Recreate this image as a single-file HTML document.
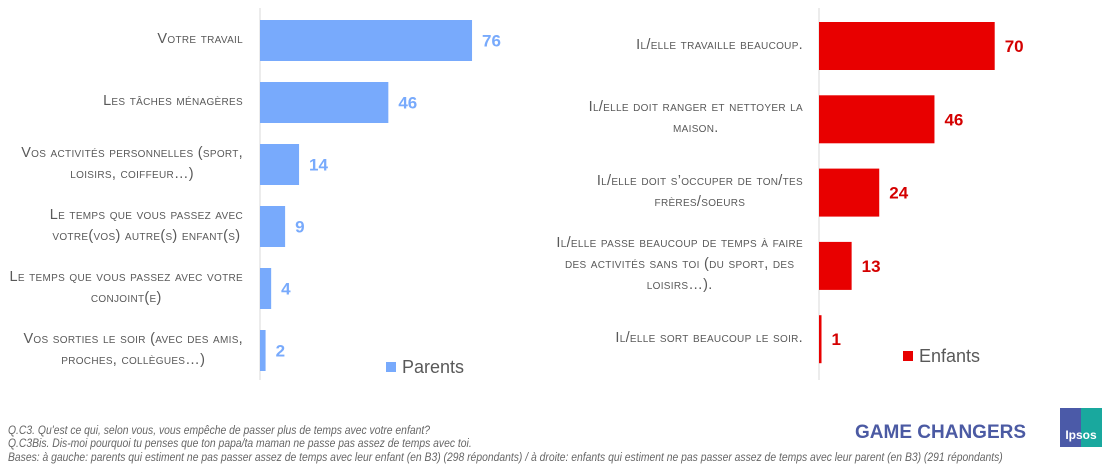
<!DOCTYPE html>
<html><head><meta charset="utf-8"><style>
body{margin:0;width:1112px;height:467px;background:#fff;overflow:hidden;font-family:"Liberation Sans",sans-serif;position:relative}
.lbl{position:absolute;text-align:center;color:#595959;font-variant:small-caps;font-size:14.5px;line-height:21px;letter-spacing:0.3px;white-space:nowrap}
.foot{position:absolute;left:8px;font-style:italic;font-size:11.5px;color:#666;transform:scaleX(0.9);transform-origin:left;white-space:nowrap}
</style></head><body>
<svg id="chart" width="1112" height="467" style="position:absolute;left:0;top:0"></svg>
<div class="foot" style="top:425px">Q.C3. Qu'est ce qui, selon vous, vous empêche de passer plus de temps avec votre enfant?</div>
<div class="foot" style="top:438px">Q.C3Bis. Dis-moi pourquoi tu penses que ton papa/ta maman ne passe pas assez de temps avec toi.</div>
<div class="foot" style="top:452px">Bases: à gauche: parents qui estiment ne pas passer assez de temps avec leur enfant (en B3) (298 répondants) / à droite: enfants qui estiment ne pas passer assez de temps avec leur parent (en B3) (291 répondants)</div>
<div style="position:absolute;left:855px;top:422px;font-weight:bold;font-size:19px;color:#4b5aa3;letter-spacing:0px">GAME CHANGERS</div>
<div style="position:absolute;left:1060px;top:408px;width:42px;height:39px;background:linear-gradient(90deg,#4b5aa8 50%,#19a89e 50%);color:#fff;font-weight:bold;font-size:12px;text-align:center;line-height:14px;padding-top:20px;box-sizing:border-box">Ipsos</div>
<script>
const leftCats=["Votre travail","Les tâches ménagères","Vos activités personnelles (sport,<br>loisirs, coiffeur…)","Le temps que vous passez avec<br>votre(vos) autre(s) enfant(s)","Le temps que vous passez avec votre<br>conjoint(e)","Vos sorties le soir (avec des amis,<br>proches, collègues…)"];
const leftVals=[76,46,14,9,4,2];
const rightCats=["Il/elle travaille beaucoup.","Il/elle doit ranger et nettoyer la<br>maison.","Il/elle doit s’occuper de ton/tes<br>frères/soeurs","Il/elle passe beaucoup de temps à faire<br>des activités sans toi (du sport, des<br>loisirs…).","Il/elle sort beaucoup le soir."];
const rightVals=[70,46,24,13,1];
const svg=document.getElementById('chart');
const NS="http://www.w3.org/2000/svg";
function mk(t,a){const e=document.createElementNS(NS,t);for(const k in a)e.setAttribute(k,a[k]);svg.appendChild(e);return e;}
function panel(cats,vals,o){
  const ax=mk('line',{x1:o.x0,x2:o.x0,y1:8,y2:380,stroke:'#d9d9d9','stroke-width':1});
  
  
  const xs=v=>o.x0+v*o.scale;
  vals.forEach((v,i)=>{
    const y=o.y0+i*o.step;
    const r=mk('rect',{x:o.x0,y:y,width:xs(v)-o.x0,height:o.h,fill:o.color});
    
    
    const t=mk('text',{x:xs(v)+10,y:y+o.h/2+6,fill:o.tcolor,'font-size':17,'font-weight':'bold','font-family':'Liberation Sans, sans-serif'});
    t.textContent=v;
    
    
    const d=document.createElement('div');
    d.className='lbl';
    
    
    d.innerHTML=cats[i];
    document.body.appendChild(d);
    const lines=cats[i].split('<br>').length;
    d.style.right=(1112-o.lblRight)+'px';
    d.style.top=(y+o.h/2-lines*21/2-1)+'px';
  });
  const sq=mk('rect',{x:o.legX,y:o.legY,width:10,height:10,fill:o.color});
  
  
  const lt=mk('text',{x:o.legX+16,y:o.legY+11,fill:'#595959','font-size':18,'font-family':'Liberation Sans, sans-serif'});
  lt.textContent=o.legend;
  
  
}
panel(leftCats,leftVals,{key:'parents',x0:260,scale:2.79,y0:20,step:62,h:41,color:'#78aafc',tcolor:'#78aafc',lblRight:243,legX:386,legY:362,legend:'Parents'});
panel(rightCats,rightVals,{key:'enfants',x0:819,scale:2.51,y0:22,step:73.3,h:48,color:'#e80000',tcolor:'#d40000',lblRight:803,legX:903,legY:351,legend:'Enfants'});
</script>
</body></html>
